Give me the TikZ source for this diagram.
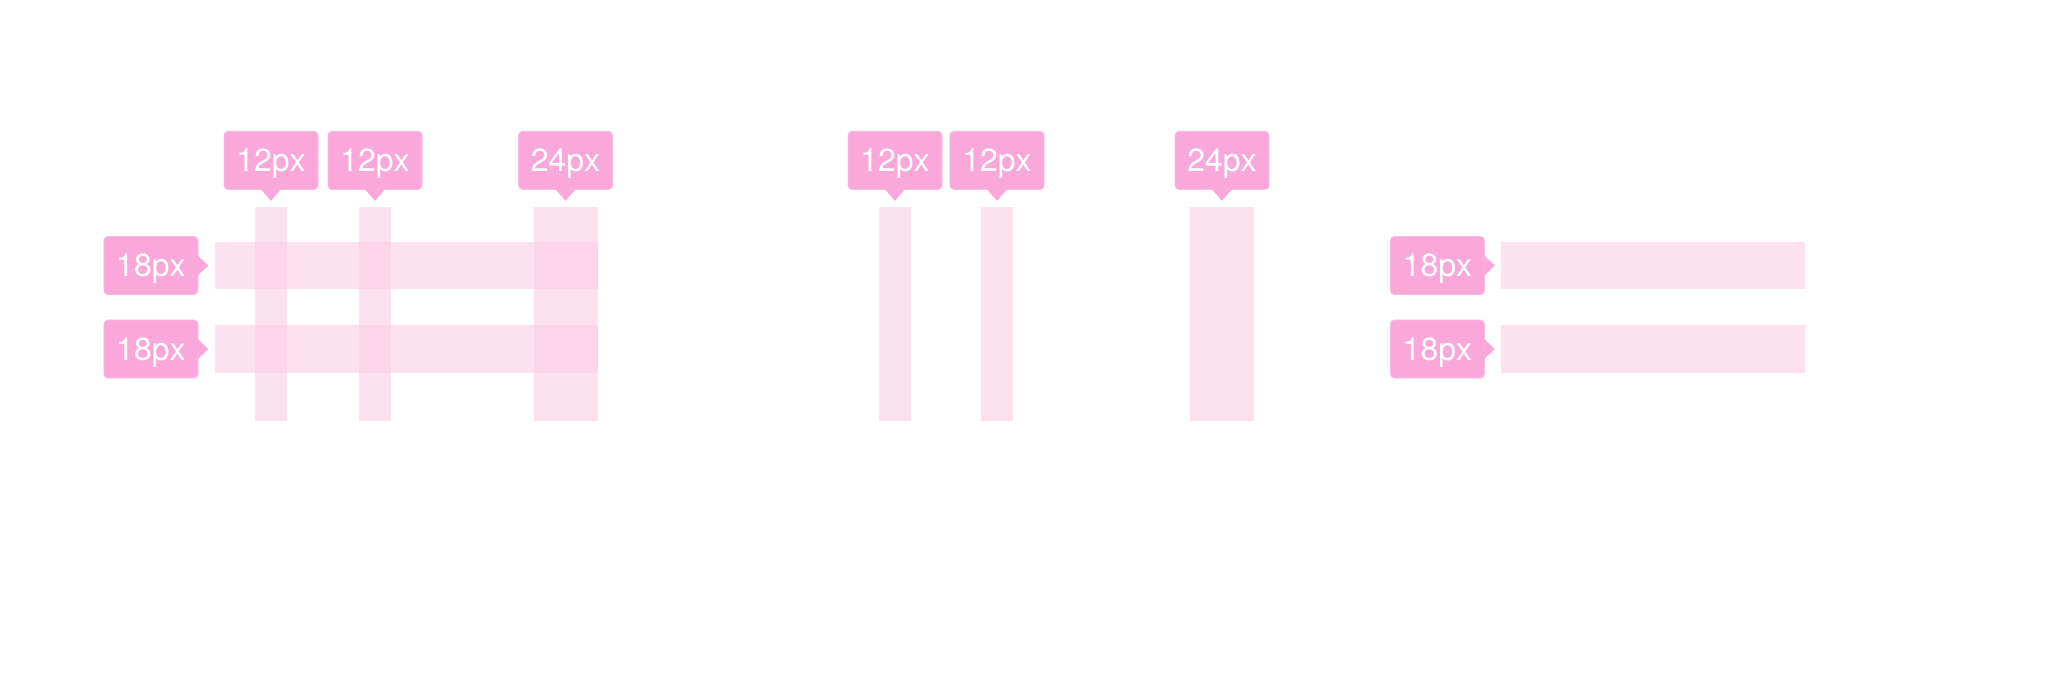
\documentclass[tikz,border=0pt]{standalone}
\usepackage{fontspec}
\setmainfont{TeX Gyre Heros}
\usepackage{tikz}
\usetikzlibrary{positioning,calc}
\definecolor{tagPink}{HTML}{F9A8D9}
\definecolor{tagEdge}{HTML}{FBB9E0}
\definecolor{barPink}{HTML}{FCCDE5}

\begin{document}
\begin{tikzpicture}[
  x=1pt,y=-1pt,
  tag/.style={fill=tagPink,draw=tagEdge,line width=0.8pt,rounded corners=4pt,text=white,
    minimum width=94,minimum height=58,inner sep=0pt,text height=23pt,text depth=0pt,
    font=\fontsize{32}{32}\selectfont},
  vbar/.style={fill=barPink,fill opacity=0.6,inner sep=0pt,minimum height=214},
  hbar/.style={fill=barPink,fill opacity=0.6,inner sep=0pt,minimum height=47},
  tip/.style={fill=tagPink}
]
  \useasboundingbox (0,0) rectangle (2048,676);

  % left: columns and rows together
  \node[vbar,minimum width=32] (la) at (271,314) {};
  \node[vbar,minimum width=32] (lb) at (375,314) {};
  \node[vbar,minimum width=64] (lc) at (565.5,314) {};
  \node[hbar,minimum width=383] (lr1) at (406,265.5) {};
  \node[hbar,minimum width=383,minimum height=48] (lr2) at (406,349) {};

  \node[tag,above=17pt of la] (tla) {12px};
  \node[tag,above=17pt of lb] (tlb) {12px};
  \node[tag,above=17pt of lc] (tlc) {24px};
  \node[tag,left=16pt of lr1] (tlr1) {18px};
  \node[tag,left=16pt of lr2] (tlr2) {18px};

  % middle: columns only
  \node[vbar,minimum width=32] (ma) at (895,314) {};
  \node[vbar,minimum width=32] (mb) at (997,314) {};
  \node[vbar,minimum width=64] (mc) at (1222,314) {};

  \node[tag,above=17pt of ma] (tma) {12px};
  \node[tag,above=17pt of mb] (tmb) {12px};
  \node[tag,above=17pt of mc] (tmc) {24px};

  % right: rows only
  \node[hbar,minimum width=304] (rr1) at (1653,265.5) {};
  \node[hbar,minimum width=304,minimum height=48] (rr2) at (1653,349) {};

  \node[tag,left=16pt of rr1] (trr1) {18px};
  \node[tag,left=16pt of rr2] (trr2) {18px};

  \foreach \t in {tla,tlb,tlc,tma,tmb,tmc}
    \fill[tip] ($(\t.south)+(-10,-0.5)$) -- ($(\t.south)+(0,11)$) -- ($(\t.south)+(10,-0.5)$) -- cycle;
  \foreach \t in {tlr1,tlr2,trr1,trr2}
    \fill[tip] ($(\t.east)+(-0.5,-10)$) -- ($(\t.east)+(10,0)$) -- ($(\t.east)+(-0.5,10)$) -- cycle;
\end{tikzpicture}
\end{document}
